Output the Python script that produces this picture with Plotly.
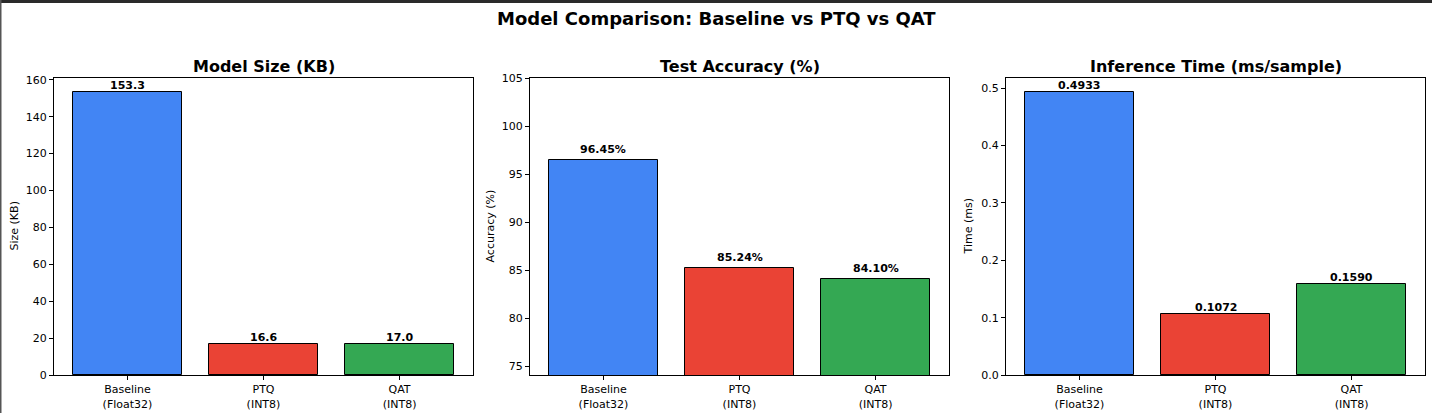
import plotly.graph_objects as go

W, H = 1432, 413

categories = ["Baseline<br>(Float32)", "PTQ<br>(INT8)", "QAT<br>(INT8)"]
size_kb = [153.3, 16.6, 17.0]
accuracy = [96.45, 85.24, 84.10]
infer_ms = [0.4933, 0.1072, 0.1590]
size_labels = ["153.3", "16.6", "17.0"]
acc_labels = ["96.45%", "85.24%", "84.10%"]
time_labels = ["0.4933", "0.1072", "0.1590"]
colors = ["#4285F4", "#EA4335", "#34A853"]

panel_titles = ["Model Size (KB)", "Test Accuracy (%)", "Inference Time (ms/sample)"]
y_titles = ["Size (KB)", "Accuracy (%)", "Time (ms)"]
main_title = "Model Comparison: Baseline vs PTQ vs QAT"

FONT = "DejaVu Sans"

def px_x(x):
    return x / W

def px_y(y):
    return 1 - y / H

panels = [(54, 473), (530, 949), (1006, 1425)]
top, bottom = 78, 375

fig = go.Figure()

data_sets = [size_kb, accuracy, infer_ms]
label_sets = [size_labels, acc_labels, time_labels]
yranges = [[0, max(size_kb) * 1.05], [min(accuracy) - 10, 105], [0, max(infer_ms) * 1.05]]
dticks = [20, 5, 0.1]
tickformats = ["d", "d", ".1f"]
tick0s = [0, 75, 0]
label_shift = [0, 4, 0]
ytitle_x = [14, 490, 968]

xs = [0, 1, 2]
for i in range(3):
    xa = "x" if i == 0 else f"x{i+1}"
    ya = "y" if i == 0 else f"y{i+1}"
    fig.add_trace(go.Bar(
        x=xs, y=data_sets[i], width=0.8,
        marker=dict(color=colors, line=dict(color="black", width=1)),
        xaxis=xa, yaxis=ya, showlegend=False, hoverinfo="skip",
    ))
    axkey = "xaxis" if i == 0 else f"xaxis{i+1}"
    aykey = "yaxis" if i == 0 else f"yaxis{i+1}"
    l, r = panels[i]
    fig.update_layout({
        axkey: dict(
            domain=[px_x(l), px_x(r)], anchor=ya, range=[-0.54, 2.54],
            tickmode="array", tickvals=xs, ticktext=categories,
            ticks="outside", ticklen=4, tickcolor="black", tickwidth=1,
            showline=True, linecolor="black", linewidth=1, mirror=True,
            showgrid=False, zeroline=False, automargin=False,
            tickfont=dict(family=FONT, size=11, color="black"),
            fixedrange=True,
        ),
        aykey: dict(
            domain=[px_y(bottom), px_y(top)], anchor=xa, range=yranges[i],
            tickmode="linear", tick0=tick0s[i], dtick=dticks[i], tickformat=tickformats[i],
            ticks="outside", ticklen=4, tickcolor="black", tickwidth=1,
            showline=True, linecolor="black", linewidth=1, mirror=True,
            showgrid=False, zeroline=False, automargin=False,
            tickfont=dict(family=FONT, size=11, color="black"),
            fixedrange=True,
        ),
    })
    for j in range(3):
        fig.add_annotation(
            x=xs[j], y=data_sets[i][j], xref=xa, yref=ya,
            text=f"<b>{label_sets[i][j]}</b>", showarrow=False,
            yanchor="bottom", yshift=label_shift[i] - 2,
            font=dict(family=FONT, size=11, color="black"),
        )
    fig.add_annotation(
        x=px_x((l + r) / 2), y=px_y(66), xref="paper", yref="paper",
        text=f"<b>{panel_titles[i]}</b>", showarrow=False,
        xanchor="center", yanchor="middle",
        font=dict(family=FONT, size=16, color="black"),
    )
    fig.add_annotation(
        x=px_x(ytitle_x[i]), y=px_y((top + bottom) / 2), xref="paper", yref="paper",
        text=y_titles[i], showarrow=False, textangle=-90,
        xanchor="center", yanchor="middle",
        font=dict(family=FONT, size=11, color="black"),
    )

fig.add_annotation(
    x=0.5, y=px_y(18), xref="paper", yref="paper",
    text=f"<b>{main_title}</b>", showarrow=False,
    xanchor="center", yanchor="middle",
    font=dict(family=FONT, size=18, color="black"),
)

# outer window border
fig.add_shape(type="rect", xref="paper", yref="paper", x0=0, x1=1, y0=px_y(3), y1=1,
              fillcolor="#2a2a2a", line=dict(width=0), layer="above")
fig.add_shape(type="rect", xref="paper", yref="paper", x0=0, x1=px_x(1.5), y0=0, y1=1,
              fillcolor="#555555", line=dict(width=0), layer="above")

fig.update_layout(
    width=W, height=H,
    margin=dict(l=0, r=0, t=0, b=0),
    paper_bgcolor="white", plot_bgcolor="white",
    font=dict(family=FONT, color="black"),
    bargap=0,
)

fig.write_html("out.html", config={"displayModeBar": False})
